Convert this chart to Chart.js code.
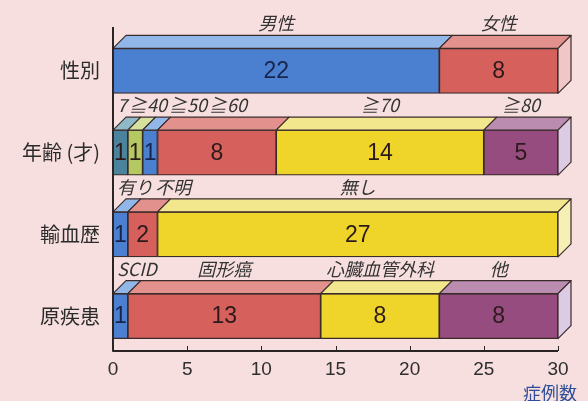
<!DOCTYPE html>
<html>
<head>
<meta charset="utf-8">
<script src="https://cdn.jsdelivr.net/npm/chart.js@4"></script>
<style>
  html, body { margin: 0; padding: 0; background: #f6dfde; }
  #wrap { width: 588px; height: 401px; }
</style>
</head>
<body>
<div id="wrap"><canvas id="caseChart" width="588" height="401"></canvas></div>
<script>
// 症例の内訳（横積み上げ棒）
const rowLabels = ['性別', '年齢 (才)', '輸血歴', '原疾患'];

const sexNames = ['男性', '女性'];
const sexCounts = [22, 8];

const ageNames = ['7', '≧40', '≧50', '≧60', '≧70', '≧80'];
const ageCounts = [1, 1, 1, 8, 14, 5];

const transfusionNames = ['有り', '不明', '無し'];
const transfusionCounts = [1, 2, 27];

const diseaseNames = ['SCID', '固形癌', '心臓血管外科', '他'];
const diseaseCounts = [1, 13, 8, 8];

const xTicks = [0, 5, 10, 15, 20, 25, 30];

// 色: front=正面, top=上面, side=右側面
const PALETTE = {
    blue:   { front: '#4b7fd0', top: '#91b7e8', side: '#c6d8f2' },
    red:    { front: '#d6605c', top: '#e3918c', side: '#f0c7c6' },
    yellow: { front: '#efd42a', top: '#f3e78e', side: '#f7f0b4' },
    purple: { front: '#974c7f', top: '#ba8cb0', side: '#ddcbe3' },
    teal:   { front: '#4c839c', top: '#90b9c7', side: '#c4dbe2' },
    lime:   { front: '#b5c962', top: '#d5e19c', side: '#e9efca' }
};
const sexColors = ['blue', 'red'];
const ageColors = ['teal', 'lime', 'blue', 'red', 'yellow', 'purple'];
const transfusionColors = ['blue', 'red', 'yellow'];
const diseaseColors = ['blue', 'red', 'yellow', 'purple'];

const EDGE = '#3a2b2b';
const DEPTH = 13;

const rows = [
    { names: sexNames, counts: sexCounts, colors: sexColors },
    { names: ageNames, counts: ageCounts, colors: ageColors },
    { names: transfusionNames, counts: transfusionCounts, colors: transfusionColors },
    { names: diseaseNames, counts: diseaseCounts, colors: diseaseColors }
];

// 行ごとに区分数が違うので、j番目の区分をまとめて1データセットにする
const slotCount = Math.max(...rows.map(r => r.counts.length));
const datasets = [];
for (let j = 0; j < slotCount; j++) {
    datasets.push({
        data: rows.map(r => (j < r.counts.length ? r.counts[j] : null)),
        backgroundColor: rows.map(r => (j < r.colors.length ? PALETTE[r.colors[j]].front : 'transparent')),
        borderColor: EDGE,
        borderWidth: 1.2,
        borderSkipped: false,
        barThickness: 45
    });
}

// 立体の上面・側面、数値、区分名、軸線
const boxPlugin = {
    id: 'box3d',
    afterDatasetsDraw(chart) {
        const ctx = chart.ctx;
        const area = chart.chartArea;
        const xs = chart.scales.x;
        ctx.save();
        ctx.lineWidth = 1.2;
        ctx.strokeStyle = EDGE;
        ctx.lineJoin = 'round';

        rows.forEach((row, i) => {
            let prevRight = area.left + 4;
            row.counts.forEach((v, j) => {
                const el = chart.getDatasetMeta(j).data[i];
                const p = el.getProps(['x', 'y', 'base', 'height'], true);
                const top = p.y - p.height / 2;
                const bottom = p.y + p.height / 2;
                const col = PALETTE[row.colors[j]];

                // 上面
                ctx.beginPath();
                ctx.moveTo(p.base, top);
                ctx.lineTo(p.base + DEPTH, top - DEPTH);
                ctx.lineTo(p.x + DEPTH, top - DEPTH);
                ctx.lineTo(p.x, top);
                ctx.closePath();
                ctx.fillStyle = col.top;
                ctx.fill();
                ctx.stroke();

                // 右端の側面
                if (j === row.counts.length - 1) {
                    ctx.beginPath();
                    ctx.moveTo(p.x, top);
                    ctx.lineTo(p.x + DEPTH, top - DEPTH);
                    ctx.lineTo(p.x + DEPTH, bottom - DEPTH);
                    ctx.lineTo(p.x, bottom);
                    ctx.closePath();
                    ctx.fillStyle = col.side;
                    ctx.fill();
                    ctx.stroke();
                }

                // 数値
                ctx.font = '23px "Liberation Sans", Arial, sans-serif';
                ctx.textAlign = 'center';
                ctx.textBaseline = 'middle';
                ctx.fillStyle = row.colors[j] === 'blue' ? '#17254d' : '#2c1a1a';
                ctx.fillText(String(v), (p.base + p.x) / 2, p.y + 1);

                // 区分名（重ならないよう左から順に並べる）
                ctx.font = 'italic 18px "Noto Sans CJK JP", sans-serif';
                ctx.textAlign = 'left';
                ctx.textBaseline = 'alphabetic';
                ctx.fillStyle = '#333';
                const name = row.names[j];
                const w = ctx.measureText(name).width;
                let left = (p.base + p.x) / 2 - w / 2;
                left = Math.max(left, prevRight);
                ctx.fillText(name, left, top - DEPTH - 5);
                prevRight = left + w + 2;
            });
        });

        // 軸線と内向きの目盛り
        const axisY = area.bottom - 6;
        ctx.lineWidth = 2;
        ctx.strokeStyle = '#2a2424';
        ctx.beginPath();
        ctx.moveTo(area.left, area.top - 3);
        ctx.lineTo(area.left, axisY);
        ctx.lineTo(xs.getPixelForValue(xTicks[xTicks.length - 1]), axisY);
        ctx.stroke();
        ctx.lineWidth = 1;
        xTicks.slice(1).forEach(t => {
            const px = Math.round(xs.getPixelForValue(t)) + 0.5;
            ctx.beginPath();
            ctx.moveTo(px, axisY);
            ctx.lineTo(px, axisY - 5);
            ctx.stroke();
        });

        // 単位
        ctx.font = '18px "Noto Sans CJK JP", sans-serif';
        ctx.textAlign = 'right';
        ctx.textBaseline = 'middle';
        ctx.fillStyle = '#2f4e98';
        ctx.fillText('症例数', area.right + 19, 393);
        ctx.restore();
    }
};

new Chart(document.getElementById('caseChart'), {
    type: 'bar',
    data: { labels: rowLabels, datasets: datasets },
    options: {
        indexAxis: 'y',
        responsive: false,
        animation: false,
        layout: { padding: { top: 30, right: 30, left: 0, bottom: 0 } },
        plugins: {
            legend: { display: false },
            tooltip: { enabled: false }
        },
        scales: {
            x: {
                stacked: true,
                min: 0,
                max: 30,
                grid: { display: false, drawTicks: false },
                border: { display: false },
                ticks: {
                    stepSize: 5,
                    padding: 1,
                    color: '#2e2e2e',
                    font: { family: '"Liberation Sans", Arial, sans-serif', size: 19 }
                },
                afterFit(scale) { scale.height = 44; }
            },
            y: {
                stacked: true,
                grid: { display: false, drawTicks: false },
                border: { display: false },
                ticks: {
                    padding: 13,
                    color: '#2b2b2b',
                    font: { family: '"Noto Sans CJK JP", sans-serif', size: 20 }
                },
                afterFit(scale) { scale.width = 113; }
            }
        }
    },
    plugins: [boxPlugin]
});
</script>
</body>
</html>
